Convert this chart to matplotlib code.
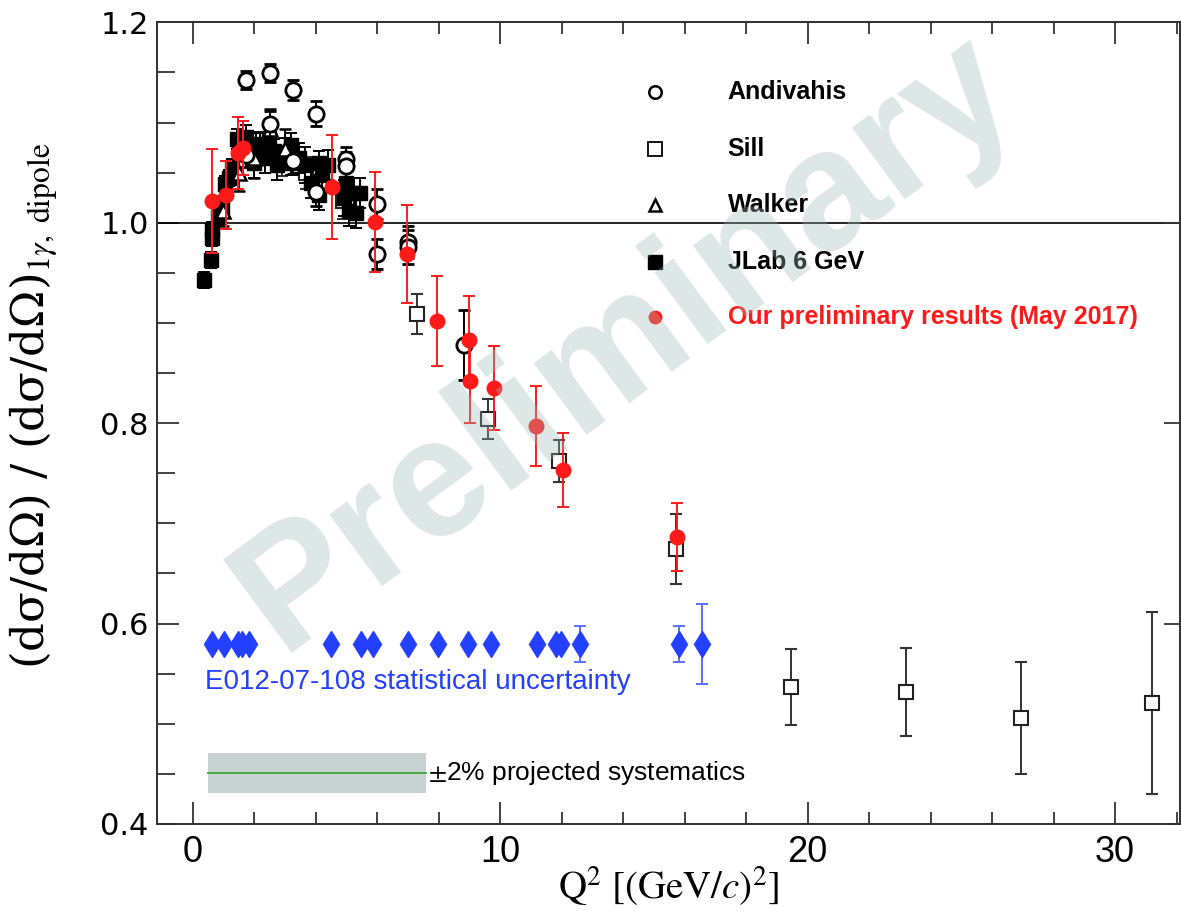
"""Ratio of measured cross sections to the one-photon dipole expectation vs Q^2."""

import matplotlib
matplotlib.use("Agg")
import matplotlib.pyplot as plt
from matplotlib.ticker import MultipleLocator
from matplotlib.patches import Rectangle

plt.rcParams.update({
    "font.family": "DejaVu Sans",
    "mathtext.fontset": "stix",
    "axes.linewidth": 1.3,
    "axes.edgecolor": "#333333",
})

# Andivahis (SLAC NE11)
andivahis_q2 = [1.75, 1.75, 2.5, 2.5, 3.25, 3.25, 4.0, 4.0, 5.0, 5.0, 6.0, 6.0, 7.0, 7.0, 8.83]
andivahis_r = [1.142, 1.068, 1.149, 1.099, 1.132, 1.062, 1.109, 1.031, 1.064, 1.057, 1.019, 0.969, 0.981, 0.976, 0.878]
andivahis_err = [0.009, 0.012, 0.009, 0.013, 0.010, 0.013, 0.012, 0.014, 0.012, 0.014, 0.015, 0.015, 0.016, 0.017, 0.035]

# Sill (SLAC NE4)
sill_q2 = [2.9, 3.7, 4.9, 7.31, 9.62, 11.93, 15.71, 19.46, 23.2, 26.94, 31.2]
sill_r = [1.062, 1.050, 1.022, 0.909, 0.804, 0.762, 0.674, 0.537, 0.532, 0.506, 0.521]
sill_err = [0.015, 0.016, 0.018, 0.020, 0.020, 0.021, 0.035, 0.038, 0.044, 0.056, 0.091]

# Walker
walker_q2 = [1.0, 1.5, 2.0, 2.5, 3.0]
walker_r = [1.012, 1.050, 1.065, 1.094, 1.074]
walker_err = [0.015, 0.018, 0.020, 0.020, 0.020]

# JLab 6 GeV
jlab_q2 = [0.37, 0.60, 0.62, 0.64, 0.84, 0.95, 1.06, 1.17, 1.28, 1.44, 1.52, 1.75, 1.90, 1.98,
           2.07, 2.20, 2.35, 2.47, 2.64, 2.75, 3.00, 3.20, 3.20, 3.45, 3.66, 3.85, 4.10, 4.10,
           4.20, 4.40, 4.91, 5.00, 5.10, 5.24, 5.30, 5.45]
jlab_r = [0.943, 0.963, 0.985, 0.993, 1.006, 1.016, 1.039, 1.045, 1.056, 1.084, 1.072, 1.086, 1.070, 1.060,
          1.078, 1.079, 1.065, 1.085, 1.072, 1.058, 1.070, 1.060, 1.078, 1.065, 1.058, 1.040, 1.060, 1.028,
          1.048, 1.058, 1.025, 1.040, 1.012, 1.030, 1.010, 1.030]
jlab_err = [0.008, 0.008, 0.008, 0.008, 0.008, 0.008, 0.008, 0.008, 0.008, 0.010, 0.010, 0.012, 0.012, 0.015,
            0.012, 0.012, 0.015, 0.015, 0.012, 0.015, 0.015, 0.012, 0.012, 0.015, 0.018, 0.015, 0.012, 0.015,
            0.015, 0.015, 0.018, 0.018, 0.015, 0.015, 0.015, 0.015]

# our preliminary results (May 2017)
ours_q2 = [0.64, 1.08, 1.46, 1.65, 4.53, 5.94, 6.97, 7.95, 9.0, 9.03, 9.79, 11.17, 12.05, 15.74]
ours_r = [1.022, 1.028, 1.070, 1.075, 1.036, 1.001, 0.969, 0.902, 0.883, 0.842, 0.835, 0.797, 0.753, 0.686]
ours_err = [0.052, 0.034, 0.036, 0.027, 0.052, 0.050, 0.049, 0.045, 0.044, 0.042, 0.042, 0.040, 0.037, 0.034]

# E12-07-108 projected statistical uncertainty
proj_q2 = [0.62, 1.02, 1.48, 1.59, 1.82, 4.50, 5.47, 5.87, 7.01, 7.99, 8.96, 9.70, 11.19, 11.81,
           11.98, 12.61, 15.81, 16.55]
proj_err = [0.002, 0.002, 0.002, 0.002, 0.002, 0.002, 0.002, 0.002, 0.002, 0.002, 0.002, 0.002, 0.002, 0.003,
            0.003, 0.018, 0.018, 0.040]
PROJ_LEVEL = 0.58

SYST_RANGE = (0.5, 7.6)
SYST_LEVEL = 0.451
SYST_HALF = 0.02

legend_labels = ["Andivahis", "Sill", "Walker", "JLab 6 GeV", "Our preliminary results (May 2017)"]

RED = "#ff1a1a"
BLUE = "#2440ff"

fig = plt.figure(figsize=(11.81, 9.11), dpi=100)
ax = fig.add_axes([0.1329, 0.0955, 0.866, 0.880])

eb = dict(capsize=4, elinewidth=1.4, capthick=1.4, ls="none")

ax.errorbar(sill_q2, sill_r, yerr=sill_err, fmt="s", ms=10, mfc="white", mec="#222222", mew=1.5,
            ecolor="#333333", zorder=2.5, **eb)
ax.errorbar(jlab_q2, jlab_r, yerr=jlab_err, fmt="s", ms=10, mfc="black", mec="black",
            ecolor="black", zorder=3, **eb)
ax.errorbar(walker_q2, walker_r, yerr=walker_err, fmt="^", ms=10, mfc="white", mec="black", mew=1.8,
            ecolor="black", zorder=3, **eb)
ax.errorbar(andivahis_q2, andivahis_r, yerr=andivahis_err, fmt="o", ms=11, mfc="white", mec="black", mew=2.0,
            ecolor="black", zorder=4, **eb)
ax.errorbar(ours_q2, ours_r, yerr=ours_err, fmt="o", ms=10.5, mfc=RED, mec=RED,
            ecolor=RED, zorder=5, **eb)
ax.errorbar(proj_q2, [PROJ_LEVEL] * len(proj_q2), yerr=proj_err, fmt="d", ms=13, mfc=BLUE, mec=BLUE,
            ecolor="#5a70ff", zorder=5, **eb)

ax.axhline(1.0, color="black", lw=1.2, zorder=2)

ax.add_patch(Rectangle((SYST_RANGE[0], SYST_LEVEL - SYST_HALF), SYST_RANGE[1] - SYST_RANGE[0], 2 * SYST_HALF,
                       fc="#c8d3d1", ec="none", zorder=2))
ax.plot(SYST_RANGE, [SYST_LEVEL, SYST_LEVEL], color="#3aa83a", lw=1.3, zorder=3)
ax.text(7.65, SYST_LEVEL, r"$\pm$2% projected systematics", fontsize=19, family="Liberation Sans",
        va="center", ha="left", color="black")
ax.text(0.4, 0.542, "E012-07-108 statistical uncertainty", fontsize=20, family="Liberation Sans",
        va="center", ha="left", color=BLUE)

# hand-made legend
leg_y = [1.130, 1.074, 1.018, 0.961, 0.906]
leg_style = [
    dict(marker="o", ms=9, mfc="white", mec="black", mew=1.8),
    dict(marker="s", ms=10, mfc="white", mec="black", mew=1.3),
    dict(marker="^", ms=9, mfc="white", mec="black", mew=1.8),
    dict(marker="s", ms=10, mfc="black", mec="black"),
    dict(marker="o", ms=9, mfc=RED, mec=RED),
]
for yy, lab, st in zip(leg_y, legend_labels, leg_style):
    ax.plot([15.05], [yy], ls="none", zorder=5, **st)
    ax.text(17.4, yy, lab, fontsize=18, fontweight="bold", family="Liberation Sans", va="center",
            color=RED if lab.startswith("Our") else "black", zorder=5)

# watermark
ax.text(0.458, 0.60, "Preliminary", transform=ax.transAxes, fontsize=122, fontweight="bold",
        family="Liberation Sans", rotation=36.5, rotation_mode="anchor", ha="center", va="center",
        color=(0.62, 0.73, 0.71), alpha=0.35, zorder=10)

ax.set_xlim(-1.16, 32.1)
ax.set_ylim(0.4, 1.2)
ax.xaxis.set_major_locator(MultipleLocator(10))
ax.xaxis.set_minor_locator(MultipleLocator(2))
ax.yaxis.set_major_locator(MultipleLocator(0.2))
ax.yaxis.set_minor_locator(MultipleLocator(0.05))
ax.tick_params(axis="x", which="both", direction="in", top=True, bottom=True, color="#333333", width=1.3)
ax.tick_params(axis="x", which="major", length=16, pad=8, labelsize=26)
ax.tick_params(axis="x", which="minor", length=8.5)
ax.tick_params(axis="y", which="both", direction="in", left=True, right=False, color="#333333", width=1.3)
ax.tick_params(axis="y", which="major", length=16, pad=6, labelsize=22)
ax.tick_params(axis="y", which="minor", length=13)
for lab in ax.get_xticklabels():
    lab.set_family(["Liberation Sans Narrow", "Liberation Sans"])
ax.set_yticks([0.4, 0.6, 0.8, 1.0, 1.2], labels=["0.4", "0.6", "0.8", "1.0", "1.2"])

twin = ax.twinx()
twin.set_ylim(ax.get_ylim())
twin.yaxis.set_major_locator(MultipleLocator(0.2))
twin.tick_params(axis="y", direction="in", length=11.5, width=1.3, color="#333333", labelright=False)

ax.set_xlabel(r"$\mathrm{Q}^2\ [(\mathrm{GeV}/c)^2]$", fontsize=28, labelpad=-4)
ax.set_ylabel("(dσ/dΩ) / (dσ/dΩ)$_{1\\gamma,\\ \\mathrm{dipole}}$", fontsize=32.5,
              family="DejaVu Serif", math_fontfamily="stix")
ax.yaxis.set_label_coords(-0.096, 0.522)

fig.savefig("out.png", dpi=100)
